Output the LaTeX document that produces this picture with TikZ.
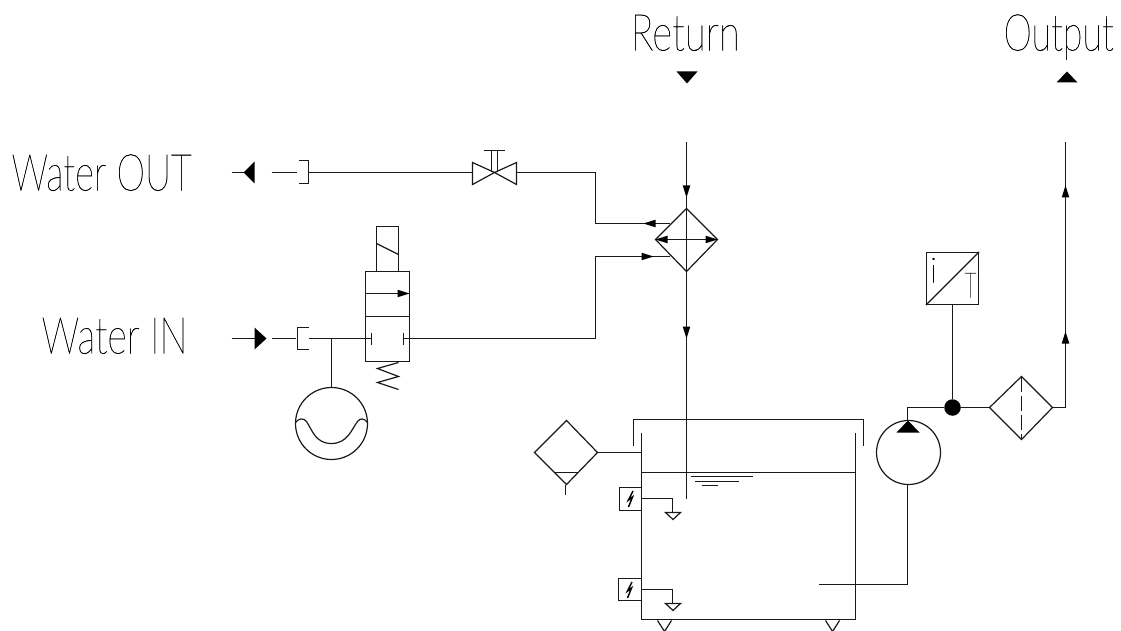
\documentclass[tikz,border=0pt]{standalone}
\usepackage{fontspec}
\setmainfont{Lato}[UprightFont=*-Thin,UprightFeatures={FakeBold=0.6}]
\usetikzlibrary{arrows.meta}
\tikzset{
 x=1pt,y=-1pt,
 ln/.style={line width=1.2pt,draw=black!90},
 lab/.style={inner sep=0pt,anchor=base west,font=\fontsize{51}{51}\selectfont,transform shape},
 hub/.style={circle,fill=black,inner sep=0pt,minimum size=16.5pt},
 disc/.style={circle,ln,inner sep=0pt},
 dia/.style={ln,line join=miter},
}
\newcommand{\bolt}[2]{\draw[line width=1.5pt] (#1+2.5,#2-7.5) -- (#1-2,#2+1.5) -- (#1+2,#2-1.5) -- (#1-2,#2+8.5);}
\newcommand{\tipU}[2]{\fill (#1,#2) -- (#1+3.8,#2+12) -- (#1-3.8,#2+12) -- cycle;}
\newcommand{\tipD}[2]{\fill (#1,#2) -- (#1+3.8,#2-12) -- (#1-3.8,#2-12) -- cycle;}
\newcommand{\tipL}[2]{\fill (#1,#2) -- (#1+12,#2+3.8) -- (#1+12,#2-3.8) -- cycle;}
\newcommand{\tipR}[2]{\fill (#1,#2) -- (#1-12,#2+3.8) -- (#1-12,#2-3.8) -- cycle;}
\begin{document}
\begin{tikzpicture}
\useasboundingbox (0,0) rectangle (1121,631);
\begin{scope}[shift={(0.5,0.5)}]
% labels
\node[lab,xscale=.755] (t1) at (630,50) {Return};
\node[lab,xscale=.705] (t2) at (1003,50) {Output};
\node[lab,xscale=.71] (t3) at (11,190) {Water OUT};
\node[lab,xscale=.735] (t4) at (41,353) {Water IN};
% port marks
\fill (676,71) -- (697,71) -- (686.5,83) -- cycle;
\fill (1056,82) -- (1077,82) -- (1066.5,71) -- cycle;
% Water OUT
\coordinate (wo0) at (231,172); \coordinate (wo1) at (243,172);
\draw[ln] (wo0) -- (wo1);
\fill (243,172) -- (254,161) -- (254,183) -- cycle;
\coordinate (wo2) at (271,172); \coordinate (wo3) at (296,172);
\draw[ln] (wo2) -- (wo3);
\draw[ln] (298,160) -- (308,160) -- (308,183) -- (298,183);
% valve
\coordinate (vL) at (472,172); \coordinate (vR) at (516,172); \coordinate (vC) at (494,172);
\draw[ln] (308,172) -- (vL);
\draw[dia] (472,162) -- (vC) -- (472,184) -- cycle;
\draw[dia] (516,162) -- (vC) -- (516,184) -- cycle;
\draw[ln] (491,150) -- (491,172) (497,150) -- (497,172) (483,150) -- (504,150);
% heat exchanger
\draw[dia] (686,208) -- (717,239) -- (686,271) -- (655,239) -- cycle;
\draw[ln] (655,239) -- (717,239);
\tipL{655}{239}
\tipR{717}{239}
\draw[ln] (686,208) -- (686,271);
\draw[ln] (vR) -- (595,172) -- (595,223) -- (669,223);
\tipL{643}{223}
\draw[ln] (595,338) -- (595,256) -- (669,256);
\tipR{653}{256}
% return
\coordinate (r0) at (686,142);
\draw[ln] (r0) -- (686,208);
\tipD{686}{197}
\draw[ln] (686,271) -- (686,498);
\tipD{686}{338}
% Water IN
\coordinate (wi0) at (231,338);
\draw[ln] (wi0) -- (255,338);
\fill (266,338) -- (254,327) -- (254,349) -- cycle;
\draw[ln] (271,338) -- (295,338);
\draw[ln] (308,327) -- (297,327) -- (297,349) -- (308,349);
\draw[ln] (308,338) -- (371,338) (371,332) -- (371,344);
\draw[ln] (403,332) -- (403,344) (403,338) -- (595,338);
% directional valve
\draw[ln] (365,271) rectangle (409,361);
\draw[ln] (365,316) -- (409,316);
\draw[ln] (365,293) -- (409,293);
\tipR{409}{293}
\draw[ln] (376,271) -- (376,226) -- (398,226) -- (398,271);
\draw[ln] (376,243) -- (398,254);
\draw[ln] (398,362) -- (377,368) -- (398,376) -- (377,382) -- (398,389);
% accumulator
\node[disc,minimum size=72pt] (acc) at (331,423) {};
\draw[ln] (331,338) -- (acc.north);
\draw[ln] (295,422) .. controls (298,418) and (303,417) .. (306,421) .. controls (312,430) and (315,443) .. (331,443) .. controls (347,443) and (351,429) .. (357,421) .. controls (360,417) and (364,418) .. (367,422);
% tank
\draw[ln] (633,445) -- (633,419) -- (863,419) -- (863,445);
\draw[ln] (641,432) -- (641,619) -- (855,619) -- (855,432);
\draw[ln] (641,472) -- (855,472);
\draw[ln] (690,476) -- (752,476) (694,481) -- (738,481) (701,485) -- (717,485);
\draw[ln] (657,620) -- (664,631) (671,620) -- (664,631);
\draw[ln] (825,620) -- (832,631) (839,620) -- (832,631);
% breather
\draw[dia] (566,420) -- (597,452) -- (566,484) -- (534,452) -- cycle;
\draw[ln] (553,472) -- (578,472) (565,484) -- (565,494);
\draw[ln] (597,452) -- (641,452);
% level switches
\draw[ln] (641,487) -- (619,487) -- (619,510) -- (641,510);
\bolt{630}{498}
\draw[ln] (641,498) -- (672,498) -- (672,512);
\draw[ln] (665,512) -- (680,512) -- (672.5,519) -- cycle;
\draw[ln] (641,578) -- (618,578) -- (618,600) -- (641,600);
\bolt{629}{589}
\draw[ln] (641,589) -- (672,589) -- (672,603);
\draw[ln] (665,603) -- (680,603) -- (672.5,610) -- cycle;
% pump
\node[disc,minimum size=64pt] (pump) at (908,452) {};
\draw[ln] (818,584) -- (907,584) -- (907,484);
\fill (896,432) -- (919,432) -- (907.5,420) -- cycle;
\node[hub] (dot) at (952,407) {};
\draw[ln] (907,420) -- (907,407) -- (dot);
% filter
\draw[dia] (1021,376) -- (1052,407) -- (1021,439) -- (989,407) -- cycle;
\draw[ln,dash pattern=on 15pt off 4pt] (1021,376) -- (1021,439);
\draw[ln] (dot) -- (989,407);
\draw[ln] (1052,407) -- (1065,407) -- (1065,142);
\tipU{1065}{331}
\tipU{1065}{185}
% sensor
\node[ln,draw,rectangle,inner sep=0pt,minimum width=52pt,minimum height=52pt] (sens) at (952,278) {};
\draw[ln] (sens.south west) -- (sens.north east);
\draw[ln] (sens.south) -- (dot);
\node[inner sep=0pt,anchor=base,font=\fontsize{35}{35}\selectfont] (si) at (933,282) {i};
\node[inner sep=0pt,anchor=base,font=\fontsize{35}{35}\selectfont,xscale=.6,transform shape] (st) at (970,297) {T};
\end{scope}
\end{tikzpicture}
\end{document}
